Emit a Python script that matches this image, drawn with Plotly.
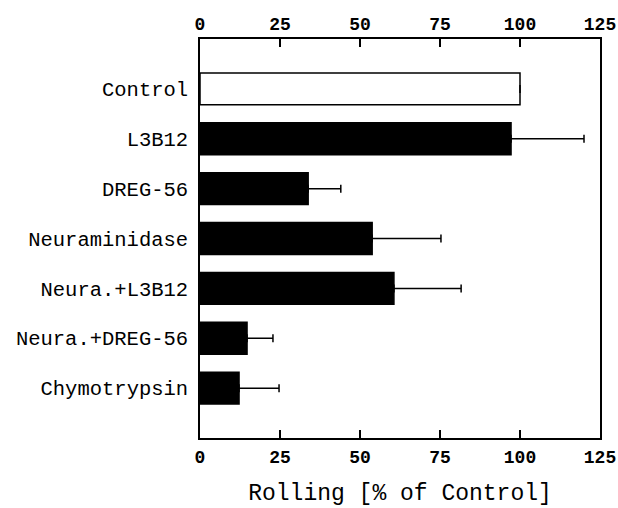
import plotly.graph_objects as go

categories = ["Control", "L3B12", "DREG-56", "Neuraminidase",
              "Neura.+L3B12", "Neura.+DREG-56", "Chymotrypsin"]
values = [100, 97.2, 33.8, 53.8, 60.6, 14.7, 12.2]
errors_plus = [0, 22.8, 10.2, 21.5, 21.0, 8.1, 12.5]
bar_colors = ["white", "black", "black", "black", "black", "black", "black"]
tick_vals = [0, 25, 50, 75, 100, 125]
tick_text = ["0", "25", "50", "75", "100", "125"]

label_font = dict(family="Liberation Mono", size=20.5, color="black")
tick_font = dict(family="Liberation Mono", size=18, color="black", weight="bold")

fig = go.Figure()
fig.add_trace(go.Bar(
    y=categories, x=values, orientation="h",
    marker=dict(color=bar_colors, line=dict(color="black", width=1.5)),
    width=0.64,
    error_x=dict(type="data", symmetric=False, array=errors_plus,
                 arrayminus=[0] * len(values), color="black",
                 thickness=1.5, width=4),
    showlegend=False,
))
fig.add_trace(go.Scatter(x=[None], y=[None], xaxis="x2", yaxis="y",
                         showlegend=False, hoverinfo="skip"))

fig.update_layout(
    width=618, height=508,
    margin=dict(l=200, r=18, t=39, b=70),
    plot_bgcolor="white", paper_bgcolor="white",
    bargap=0.36,
    xaxis=dict(range=[0, 125], tickvals=tick_vals, ticktext=tick_text,
               ticks="inside", ticklen=8, tickwidth=1.5, tickcolor="black",
               showline=True, linecolor="black", linewidth=1.5, mirror=True,
               showgrid=False, zeroline=False, tickfont=tick_font,
               automargin=False, ticklabelstandoff=2,
               title=dict(text="Rolling [% of Control]",
                          font=dict(family="Liberation Mono", size=23, color="black"),
                          standoff=17)),
    xaxis2=dict(range=[0, 125], tickvals=tick_vals, ticktext=tick_text,
                overlaying="x", side="top", anchor="y",
                ticks="inside", ticklen=8, tickwidth=1.5, tickcolor="black",
                showgrid=False, zeroline=False, showline=False,
                automargin=False, ticklabelstandoff=4,
                tickfont=tick_font),
    yaxis=dict(type="category", categoryarray=categories, range=[7, -1],
               showline=True, linecolor="black", linewidth=1.5, mirror=True,
               ticks="", showgrid=False, zeroline=False, tickfont=label_font,
               automargin=False, ticklabelstandoff=6),
)

fig.write_html("out.html")
